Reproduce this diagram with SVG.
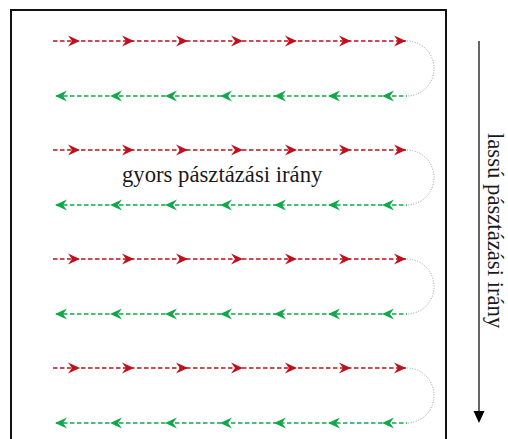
<svg xmlns="http://www.w3.org/2000/svg" xmlns:xlink="http://www.w3.org/1999/xlink" width="508" height="439" viewBox="0 0 508 439">
<style>
.red{stroke:#c0101c;stroke-width:1.5;stroke-dasharray:4.5 2.5;fill:none}
.green{stroke:#10a84a;stroke-width:1.5;stroke-dasharray:4.5 2.5;fill:none}
.turn{stroke:#9a9a9a;stroke-width:1;stroke-dasharray:1 1.6;fill:none}
.lbl{font-family:"Liberation Serif","Times New Roman",serif;font-size:22.7px;fill:#1a1a1a}
</style>
<defs>
<path id="ar" d="M0,0 L-12,-5.5 L-8,0 L-12,5.5 Z" fill="#c0101c"/>
<path id="al" d="M0,0 L12,-5.5 L8,0 L12,5.5 Z" fill="#10a84a"/>
<g id="pair">
<path class="red" d="M53,0 H406"/>
<use xlink:href="#ar" x="80" y="0"/><use xlink:href="#ar" x="134" y="0"/><use xlink:href="#ar" x="188" y="0"/><use xlink:href="#ar" x="243" y="0"/><use xlink:href="#ar" x="297" y="0"/><use xlink:href="#ar" x="351" y="0"/><use xlink:href="#ar" x="406" y="0"/>
<path class="green" d="M56,55 H407"/>
<use xlink:href="#al" x="55" y="55"/><use xlink:href="#al" x="110" y="55"/><use xlink:href="#al" x="165" y="55"/><use xlink:href="#al" x="220" y="55"/><use xlink:href="#al" x="274" y="55"/><use xlink:href="#al" x="328" y="55"/><use xlink:href="#al" x="382" y="55"/>
<path class="turn" d="M407,0 A27,27.5 0 0 1 407,55"/>
</g>
</defs>
<rect id="frame" x="11" y="10" width="435" height="440" fill="none" stroke="#111" stroke-width="2"/>
<g id="scan-lines">
<use id="row1" xlink:href="#pair" x="0" y="41"/>
<use id="row2" xlink:href="#pair" x="0" y="150"/>
<use id="row3" xlink:href="#pair" x="0" y="259"/>
<use id="row4" xlink:href="#pair" x="0" y="368"/>
</g>
<g id="fast-label"><text class="lbl" x="122" y="182">gyors pásztázási irány</text></g>
<g id="slow-axis">
<line x1="479" y1="41" x2="479" y2="412" stroke="#555" stroke-width="1.8"/>
<path d="M479,423 L473.5,411 L484.5,411 Z" fill="#000"/>
<text class="lbl" transform="translate(488,133) rotate(90)">lassú pásztázási irány</text>
</g>
</svg>
